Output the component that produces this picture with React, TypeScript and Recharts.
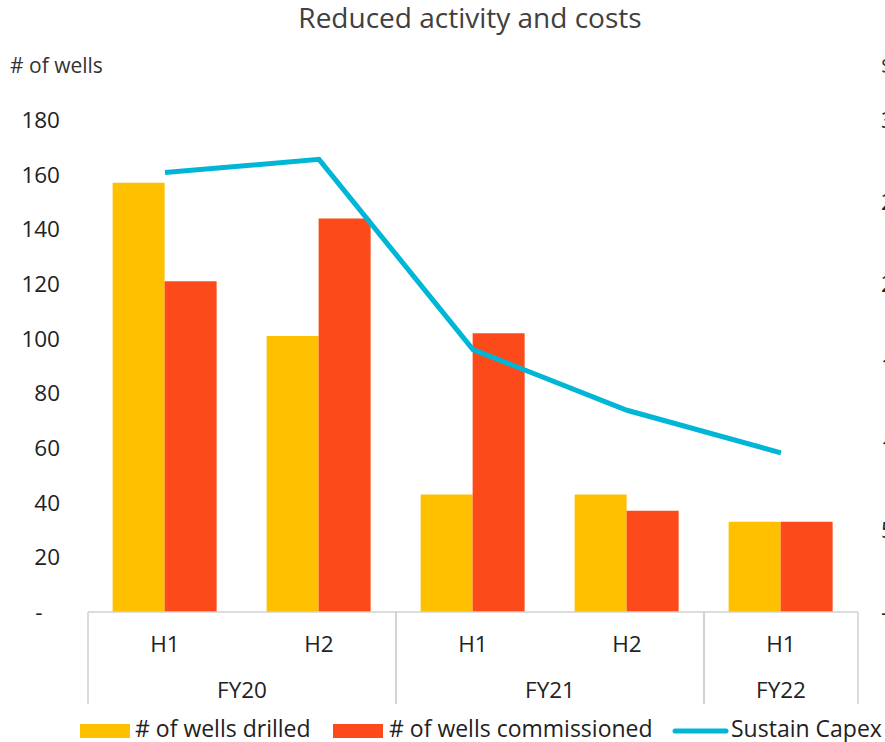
import React from "react";
import { ComposedChart, Bar, Line, XAxis, YAxis } from "recharts";

const halves = ["H1", "H2", "H1", "H2", "H1"];
const fiscalYears = ["FY20", "FY20", "FY21", "FY21", "FY22"];
const wellsDrilled = [157, 101, 43, 43, 33];
const wellsCommissioned = [121, 144, 102, 37, 33];
const sustainCapex = [268, 276, 160, 123, 97];
const leftTicks = [0, 20, 40, 60, 80, 100, 120, 140, 160, 180];
const rightTicks = [0, 50, 100, 150, 200, 250, 300];

const data = halves.map((h, i) => ({
  half: h,
  fy: fiscalYears[i],
  drilled: wellsDrilled[i],
  commissioned: wellsCommissioned[i],
  capex: sustainCapex[i],
}));

const FONT = "'Open Sans', 'Noto Sans', sans-serif";
const YELLOW = "#FFC000";
const RED = "#FC4A1A";
const CYAN = "#00B6D6";
const GRID = "#D0D0D0";
const FS = 22.5;

const CategoryTick = (props: any) => {
  const { x, y, payload, index } = props;
  const half = payload && payload.offset ? payload.offset : 77;
  const fy = fiscalYears[index];
  const isFirst = index === 0 || fiscalYears[index - 1] !== fy;
  const isLast = index === fiscalYears.length - 1 || fiscalYears[index + 1] !== fy;
  let groupEnd = index;
  while (groupEnd + 1 < fiscalYears.length && fiscalYears[groupEnd + 1] === fy) groupEnd++;
  const span = groupEnd - index + 1;
  const fyCenter = x - half + span * half;
  return (
    <g>
      <text x={x} y={y + 31} textAnchor="middle" dominantBaseline="central" fill="#222" fontSize={FS} fontFamily={FONT}>
        {payload.value}
      </text>
      {isFirst && (
        <>
          <line x1={x - half} x2={x - half} y1={y} y2={y + 92} stroke={GRID} strokeWidth={1.5} />
          <text x={fyCenter} y={y + 77} textAnchor="middle" dominantBaseline="central" fill="#222" fontSize={FS} fontFamily={FONT}>
            {fy}
          </text>
        </>
      )}
      {isLast && <line x1={x + half} x2={x + half} y1={y} y2={y + 92} stroke={GRID} strokeWidth={1.5} />}
    </g>
  );
};

const fmtLeft = (v: number) => (v === 0 ? "-\u00a0\u00a0\u00a0" : String(v));
const fmtRight = (v: number) => (v === 0 ? "-" : String(v));

export default function App() {
  return (
    <div style={{ position: "fixed", left: 0, top: 0, width: 885, height: 742, overflow: "hidden", background: "#fff", fontFamily: FONT }}>
      <ComposedChart
        width={940}
        height={742}
        data={data}
        margin={{ top: 120, right: 0, bottom: 35, left: 0 }}
        barCategoryGap="16%"
        barGap={0}
      >
        <XAxis
          dataKey="half"
          xAxisId="x"
          height={95}
          tickLine={false}
          tickSize={0}
          tickMargin={0}
          axisLine={{ stroke: GRID, strokeWidth: 1.5 }}
          tick={<CategoryTick />}
          interval={0}
        />
        <YAxis
          yAxisId="left"
          orientation="left"
          width={88}
          domain={[0, 180]}
          ticks={leftTicks}
          tickFormatter={fmtLeft}
          axisLine={false}
          tickLine={false}
          tickSize={0}
          tickMargin={28}
          tick={{ fill: "#222", fontSize: FS, fontFamily: FONT }}
          interval={0}
        />
        <YAxis
          yAxisId="right"
          orientation="right"
          width={82}
          domain={[0, 300]}
          ticks={rightTicks}
          tickFormatter={fmtRight}
          axisLine={false}
          tickLine={false}
          tickSize={0}
          tickMargin={23}
          tick={{ fill: "#222", fontSize: FS, fontFamily: FONT, textAnchor: "start" }}
          interval={0}
        />
        <Bar xAxisId="x" yAxisId="left" dataKey="drilled" fill={YELLOW} isAnimationActive={false} />
        <Bar xAxisId="x" yAxisId="left" dataKey="commissioned" fill={RED} isAnimationActive={false} />
        <Line xAxisId="x" yAxisId="right" dataKey="capex" stroke={CYAN} strokeWidth={5} dot={false} activeDot={false} type="linear" isAnimationActive={false} />
      </ComposedChart>
      <svg width={885} height={742} style={{ position: "absolute", left: 0, top: 0, pointerEvents: "none" }}>
        <text x={470} y={28} textAnchor="middle" fontSize={28} fill="#404040" fontFamily={FONT}>
          Reduced activity and costs
        </text>
        <text x={10} y={73} fontSize={21} fill="#333" fontFamily={FONT}># of wells</text>
        <text x={881} y={73} fontSize={21} fill="#333" fontFamily={FONT}>$m</text>
        <rect x={80} y={724} width={50} height={14} fill={YELLOW} />
        <text x={135} y={737} fontSize={23} fill="#222" fontFamily={FONT}># of wells drilled</text>
        <rect x={333} y={724} width={50} height={14} fill={RED} />
        <text x={389} y={737} fontSize={23} fill="#222" fontFamily={FONT}># of wells commissioned</text>
        <line x1={675} x2={726} y1={731} y2={731} stroke={CYAN} strokeWidth={5} strokeLinecap="round" />
        <text x={731} y={737} fontSize={23} fill="#222" fontFamily={FONT}>Sustain Capex</text>
      </svg>
    </div>
  );
}
